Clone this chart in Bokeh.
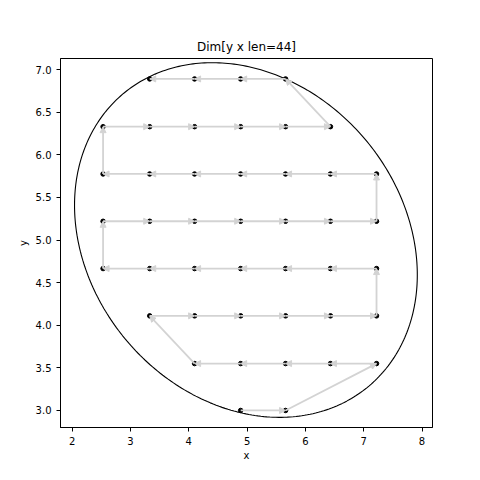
import numpy as np
from bokeh.plotting import figure
from bokeh.models import ColumnDataSource, Arrow, NormalHead, FixedTicker, Range1d, PrintfTickFormatter
from bokeh.embed import file_html
from bokeh.resources import INLINE

# Path of 44 points (in order)
x = [4.89, 5.66,
     7.22, 6.43, 5.66, 4.89, 4.10,
     3.33, 4.10, 4.89, 5.66, 6.43, 7.22,
     7.22, 6.43, 5.66, 4.89, 4.10, 3.33, 2.53,
     2.53, 3.33, 4.10, 4.89, 5.66, 6.43, 7.22,
     7.22, 6.43, 5.66, 4.89, 4.10, 3.33, 2.53,
     2.53, 3.33, 4.10, 4.89, 5.66, 6.43,
     5.66, 4.89, 4.10, 3.33]
y = [3.00, 3.00,
     3.55, 3.55, 3.55, 3.55, 3.55,
     4.11, 4.11, 4.11, 4.11, 4.11, 4.11,
     4.665, 4.665, 4.665, 4.665, 4.665, 4.665, 4.665,
     5.22, 5.22, 5.22, 5.22, 5.22, 5.22, 5.22,
     5.775, 5.775, 5.775, 5.775, 5.775, 5.775, 5.775,
     6.33, 6.33, 6.33, 6.33, 6.33, 6.33,
     6.89, 6.89, 6.89, 6.89]

# Ellipse parameters (center and shape matrix)
ell_center = [4.98, 5.0]
ell_cov = [[8.64, -1.2], [-1.2, 4.33]]

x_ticks = [2, 3, 4, 5, 6, 7, 8]
y_ticks = [3.0, 3.5, 4.0, 4.5, 5.0, 5.5, 6.0, 6.5, 7.0]

FONT = "DejaVu Sans"

p = figure(width=464, height=464, output_backend="svg", toolbar_location=None,
           x_range=Range1d(1.80, 8.18), y_range=Range1d(2.80, 7.13),
           min_border_left=60, min_border_right=32, min_border_top=58, min_border_bottom=37,
           title="Dim[y x len=44]")
p.title.align = "center"
p.title.text_font = FONT
p.title.text_font_size = "12px"
p.title.text_font_style = "normal"
p.title.text_color = "black"

p.xgrid.visible = False
p.ygrid.visible = False
p.outline_line_color = "black"
p.outline_line_alpha = 1.0
p.outline_line_width = 1
p.background_fill_color = "white"
p.border_fill_color = "white"

for ax in (p.xaxis[0], p.yaxis[0]):
    ax.axis_line_color = "black"
    ax.major_tick_line_color = "black"
    ax.major_tick_out = 4
    ax.major_tick_in = 0
    ax.minor_tick_line_color = None
    ax.major_label_text_font = FONT
    ax.major_label_text_font_size = "10px"
    ax.major_label_text_color = "black"
    ax.axis_label_text_font = FONT
    ax.axis_label_text_font_size = "10px"
    ax.axis_label_text_font_style = "normal"
    ax.axis_label_text_color = "black"

p.xaxis.ticker = FixedTicker(ticks=x_ticks)
p.yaxis.ticker = FixedTicker(ticks=y_ticks)
p.yaxis.formatter = PrintfTickFormatter(format="%.1f")
p.xaxis.axis_label = "x"
p.yaxis.axis_label = "y"
p.xaxis.axis_label_standoff = 2
p.yaxis.axis_label_standoff = 4

# Ellipse via Cholesky of shape matrix
L = np.linalg.cholesky(np.array(ell_cov))
t = np.linspace(0, 2 * np.pi, 361)
pts = L @ np.vstack([np.cos(t), np.sin(t)])
p.line(ell_center[0] + pts[0], ell_center[1] + pts[1], line_color="black", line_width=1.1)

# Points
p.scatter(x, y, size=4.5, fill_color="black", line_color="black")

# Arrows between consecutive points
src = ColumnDataSource(dict(x0=x[:-1], y0=y[:-1], x1=x[1:], y1=y[1:]))
arr = Arrow(end=NormalHead(size=6, fill_color="#d3d3d3", line_color="#d3d3d3"),
            x_start="x0", y_start="y0", x_end="x1", y_end="y1", source=src,
            line_color="#d3d3d3", line_width=1.8)
p.add_layout(arr)

open("out.html", "w").write(file_html(p, INLINE))
